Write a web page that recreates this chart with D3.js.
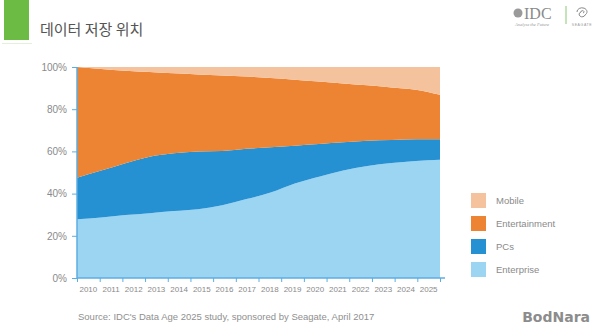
<!DOCTYPE html>
<html>
<head>
<meta charset="utf-8">
<script src="https://cdn.jsdelivr.net/npm/d3@7"></script>
<style>
  html, body { margin: 0; padding: 0; background: #fff; }
  svg { display: block; }
</style>
</head>
<body>
<svg id="chart" width="600" height="325"></svg>
<script>
// Share of data stored by location, 2010-2025 (percent of total)
const years = [2010, 2011, 2012, 2013, 2014, 2015, 2016, 2017, 2018, 2019, 2020, 2021, 2022, 2023, 2024, 2025];
const enterprise    = [27.8, 28.7, 29.8, 30.7, 31.7, 32.6, 34.5, 37.4, 40.5, 44.8, 48.0, 50.9, 53.1, 54.5, 55.5, 56.1];
const pcs           = [19.7, 22.2, 24.6, 26.8, 27.4, 27.3, 25.7, 23.8, 21.5, 17.9, 15.5, 13.4, 11.9, 10.9, 10.2, 9.6];
const entertainment = [52.5, 48.1, 43.8, 40.1, 37.9, 36.6, 35.8, 34.3, 32.8, 31.3, 29.6, 27.9, 26.3, 24.9, 23.5, 21.1];
const mobile        = [0.0, 1.0, 1.8, 2.4, 3.0, 3.5, 4.0, 4.5, 5.2, 6.0, 6.9, 7.8, 8.7, 9.7, 10.8, 13.2];
const seriesNames = ["Enterprise", "PCs", "Entertainment", "Mobile"];
const legendOrder = ["Mobile", "Entertainment", "PCs", "Enterprise"];
const yTicks = [0, 20, 40, 60, 80, 100];

const colors = {
  Mobile: "#f4c39e",
  Entertainment: "#ec8434",
  PCs: "#2590d2",
  Enterprise: "#9cd5f2"
};

const rows = years.map((y, i) => ({
  year: y,
  Enterprise: enterprise[i],
  PCs: pcs[i],
  Entertainment: entertainment[i],
  Mobile: mobile[i]
}));

const svg = d3.select("#chart");
const font = "'Liberation Sans', Arial, sans-serif";
const axisColor = "#5dade0";
const labelColor = "#8a8a8a";

// Header: green block + title
svg.append("rect").attr("x", 4).attr("y", 0).attr("width", 25).attr("height", 40).attr("fill", "#6cbb45");
svg.append("line").attr("x1", 2).attr("x2", 32).attr("y1", 43.5).attr("y2", 43.5)
  .attr("stroke", "#e4efdc").attr("stroke-width", 1);
svg.append("text").attr("x", 40).attr("y", 35)
  .attr("font-family", "'Noto Sans CJK KR', sans-serif").attr("font-size", 15)
  .attr("fill", "#555").text("데이터 저장 위치");

// Header logos (right)
const logo = svg.append("g");
logo.append("circle").attr("cx", 518).attr("cy", 13).attr("r", 4.5).attr("fill", "#9a9a9a");
logo.append("text").attr("x", 524).attr("y", 19).attr("font-family", "'Liberation Serif', serif")
  .attr("font-size", 16).attr("fill", "#8a8a8a").text("IDC");
logo.append("text").attr("x", 515).attr("y", 26).attr("font-family", "'Liberation Serif', serif")
  .attr("font-style", "italic").attr("font-size", 4.5).attr("fill", "#999").text("Analyze the Future");
logo.append("line").attr("x1", 566).attr("x2", 566).attr("y1", 6).attr("y2", 24)
  .attr("stroke", "#8cc873").attr("stroke-width", 1);
logo.append("path")
  .attr("d", "M577,12 a5,4 0 1,1 8,3 a3,2.5 0 1,1 -4,-3 a1.5,1.2 0 1,1 2,1")
  .attr("fill", "none").attr("stroke", "#888").attr("stroke-width", 1);
logo.append("text").attr("x", 582).attr("y", 26).attr("text-anchor", "middle")
  .attr("font-family", font).attr("font-size", 3.5).attr("letter-spacing", 0.6)
  .attr("fill", "#999").text("SEAGATE");

// Scales
const x0 = 77, x1 = 440, yBottom = 278, yTop = 67;
const x = d3.scaleLinear().domain([years[0], years[years.length - 1]]).range([x0, x1]);
const xBand = d3.scaleBand().domain(years).range([x0, x1]);
const y = d3.scaleLinear().domain([0, 100]).range([yBottom, yTop]);

// Stacked areas
const stack = d3.stack().keys(seriesNames);
const layers = stack(rows);
const area = d3.area()
  .x(d => x(d.data.year))
  .y0(d => y(d[0]))
  .y1(d => y(d[1]))
  .curve(d3.curveMonotoneX);

svg.append("g").selectAll("path")
  .data(layers)
  .join("path")
  .attr("d", area)
  .attr("fill", d => colors[d.key]);

// Y axis
const yAxis = svg.append("g").attr("transform", `translate(${x0},0)`)
  .call(d3.axisLeft(y).tickValues(yTicks).tickFormat(d => d + "%").tickSize(5).tickPadding(5));
yAxis.select(".domain").attr("stroke", axisColor).attr("stroke-width", 1.5).attr("d", `M0,${yTop}V${yBottom}`);
yAxis.selectAll(".tick line").attr("stroke", axisColor);
yAxis.selectAll(".tick text").attr("fill", labelColor).attr("font-family", font).attr("font-size", 10);

// X axis: tick marks at band edges, year labels centred in bands
const edges = d3.range(years.length + 1).map(i => x0 + i * xBand.step());
const xTicks = svg.append("g").attr("transform", `translate(0,${yBottom})`)
  .call(d3.axisBottom(d3.scaleLinear().domain([x0, x1]).range([x0, x1]))
    .tickValues(edges).tickFormat("").tickSize(4).tickSizeOuter(0));
xTicks.select(".domain").attr("stroke", axisColor).attr("stroke-width", 1.5).attr("d", `M${x0},0H${x1 + 5}`);
xTicks.selectAll(".tick line").attr("stroke", axisColor);

const xLabels = svg.append("g").attr("transform", `translate(0,${yBottom + 3})`)
  .call(d3.axisBottom(xBand).tickSize(0).tickPadding(5));
xLabels.select(".domain").remove();
xLabels.selectAll(".tick text").attr("fill", labelColor).attr("font-family", font).attr("font-size", 8);

// Legend
const legend = svg.append("g").attr("transform", "translate(471,193)");
const item = legend.selectAll("g").data(legendOrder).join("g")
  .attr("transform", (d, i) => `translate(0,${i * 23})`);
item.append("rect").attr("width", 15).attr("height", 15).attr("fill", d => colors[d]);
item.append("text").attr("x", 25).attr("y", 11).attr("font-family", font).attr("font-size", 9.5)
  .attr("fill", labelColor).text(d => d);

// Footer
svg.append("text").attr("x", 78).attr("y", 320).attr("font-family", font).attr("font-size", 9.5)
  .attr("fill", "#8f8f8f").text("Source: IDC's Data Age 2025 study, sponsored by Seagate, April 2017");
svg.append("text").attr("x", 590).attr("y", 322).attr("text-anchor", "end")
  .attr("font-family", "'DejaVu Sans', sans-serif").attr("font-weight", "bold").attr("font-size", 14)
  .attr("fill", "#8c8c8c").text("BodNara");
</script>
</body>
</html>
